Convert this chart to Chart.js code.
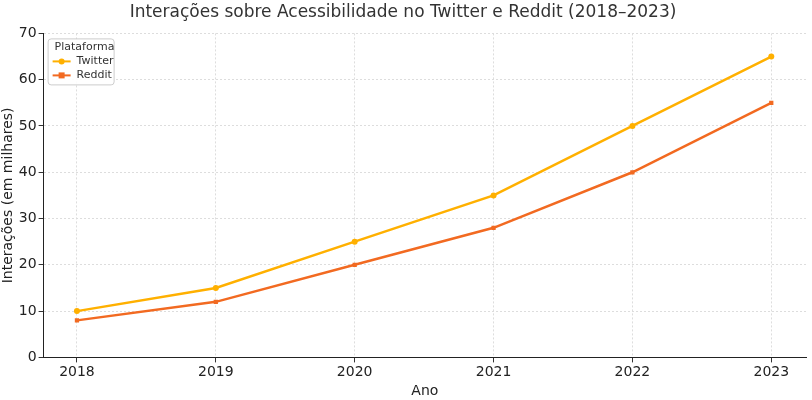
<!DOCTYPE html>
<html><head><meta charset="utf-8">
<script src="https://cdn.jsdelivr.net/npm/chart.js@4/dist/chart.umd.min.js"></script>
<style>html,body{margin:0;background:#fff}#wrap{width:812px;height:400px}</style>
</head><body><div id="wrap"><canvas id="c"></canvas></div>
<script>
const years = [2018, 2019, 2020, 2021, 2022, 2023];
const twitter = [10, 15, 25, 35, 50, 65];
const reddit = [8, 12, 20, 28, 40, 55];
const yTicks = [0, 10, 20, 30, 40, 50, 60, 70];
const font = "'DejaVu Sans', sans-serif";

// legend box drawn inside the plot area, top-left
const insideLegend = {
  id: "insideLegend",
  afterDraw(chart) {
    const ctx = chart.ctx, a = chart.chartArea;
    const x = a.left + 4, y = a.top + 5;
    ctx.save();
    ctx.fillStyle = "rgba(255,255,255,0.9)";
    ctx.strokeStyle = "#ccc";
    ctx.lineWidth = 1;
    ctx.beginPath();
    ctx.roundRect(x + 0.5, y + 0.5, 66, 46, 3);
    ctx.fill(); ctx.stroke();
    ctx.fillStyle = "#333";
    ctx.font = "11px " + font;
    ctx.textBaseline = "middle";
    ctx.fillText("Plataforma", x + 7, y + 9);
    chart.data.datasets.forEach((ds, i) => {
      const ly = y + 23 + i * 14;
      ctx.strokeStyle = ds.borderColor; ctx.lineWidth = 2;
      ctx.beginPath(); ctx.moveTo(x + 5, ly); ctx.lineTo(x + 23, ly); ctx.stroke();
      ctx.fillStyle = ds.borderColor;
      if (ds.pointStyle === "rect") ctx.fillRect(x + 11, ly - 3, 6, 6);
      else { ctx.beginPath(); ctx.arc(x + 14, ly, 3, 0, Math.PI * 2); ctx.fill(); }
      ctx.fillStyle = "#333";
      ctx.fillText(ds.label, x + 29, ly);
    });
    ctx.restore();
  }
};

new Chart(document.getElementById("c"), {
  type: "line",
  data: {
    datasets: [
      { label: "Twitter", data: years.map((y, i) => ({ x: y, y: twitter[i] })), borderColor: "#FFB000", backgroundColor: "#FFB000", borderWidth: 2.5, pointRadius: 3, pointBorderWidth: 0, pointStyle: "circle" },
      { label: "Reddit", data: years.map((y, i) => ({ x: y, y: reddit[i] })), borderColor: "#F26A21", backgroundColor: "#F26A21", borderWidth: 2.5, pointRadius: 3, pointBorderWidth: 0, pointStyle: "rect" },
    ],
  },
  plugins: [insideLegend],
  options: {
    responsive: true, maintainAspectRatio: false, animation: false,
    layout: { padding: { left: 0, right: 6, top: 0, bottom: 0 } },
    plugins: {
      legend: { display: false },
      title: { display: true, text: "Interações sobre Acessibilidade no Twitter e Reddit (2018–2023)", color: "#333", font: { family: font, size: 17, weight: "normal" }, padding: { top: 2, bottom: 11 } },
    },
    scales: {
      x: {
        type: "linear", min: 2017.76, max: 2023.25,
        afterBuildTicks: (s) => { s.ticks = years.map((v) => ({ value: v })); },
        ticks: { color: "#222", font: { family: font, size: 14 }, padding: 2, callback: (v) => String(v) },
        grid: { color: "#ddd", tickColor: "#333", tickLength: 5 },
        border: { color: "#222", dash: [2, 2] },
        title: { display: true, text: "Ano", color: "#222", font: { family: font, size: 14 }, padding: 0 },
      },
      y: {
        min: 0, max: 70,
        afterBuildTicks: (s) => { s.ticks = yTicks.map((v) => ({ value: v })); },
        ticks: { color: "#222", font: { family: font, size: 14 }, padding: 2 },
        grid: { color: "#ddd", tickColor: "#333", tickLength: 5 },
        border: { color: "#222", dash: [2, 2] },
        title: { display: true, text: "Interações (em milhares)", color: "#222", font: { family: font, size: 14 }, padding: 0 },
      },
    },
  },
});
</script></body></html>
